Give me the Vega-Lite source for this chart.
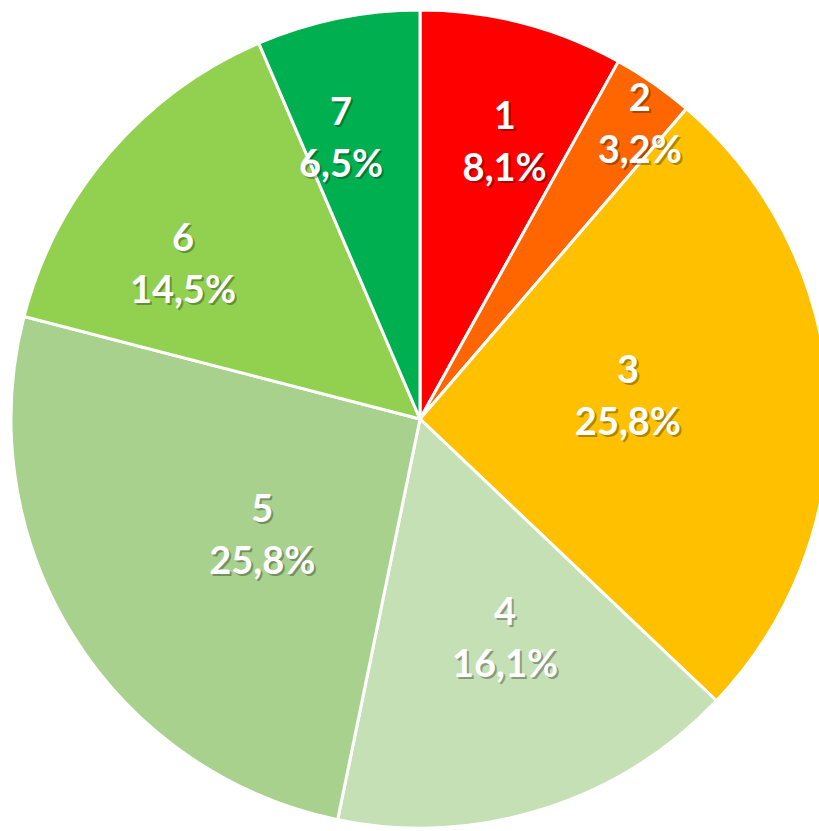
{
  "$schema": "https://vega.github.io/schema/vega-lite/v6.json",
  "width": 840,
  "height": 838,
  "autosize": {"type": "none"},
  "padding": {"left": 0, "top": 0, "right": -21, "bottom": -7},
  "background": "white",
  "view": {"stroke": null},
  "data": {
    "values": [
      {"cat": 1, "count": 5, "pct": "8,1%"},
      {"cat": 2, "count": 2, "pct": "3,2%"},
      {"cat": 3, "count": 16, "pct": "25,8%"},
      {"cat": 4, "count": 10, "pct": "16,1%"},
      {"cat": 5, "count": 16, "pct": "25,8%"},
      {"cat": 6, "count": 9, "pct": "14,5%"},
      {"cat": 7, "count": 4, "pct": "6,5%"}
    ]
  },
  "transform": [
    {"stack": "count", "groupby": [], "sort": [{"field": "cat", "order": "ascending"}], "as": ["t0", "t1"]},
    {"calculate": "(datum.t0 + datum.t1) / 2 + [0.445, 0.355, -0.5, -0.62, -0.84, -1.35, -0.72][datum.cat - 1]", "as": "mid"},
    {"calculate": "[toString(datum.cat), datum.pct]", "as": "label"},
    {"calculate": "[288, 366, 209, 237, 197, 282, 290][datum.cat - 1]", "as": "labelR"}
  ],
  "layer": [
    {
      "mark": {"type": "arc", "outerRadius": 409, "stroke": "white", "strokeWidth": 3},
      "encoding": {
        "theta": {"field": "t0", "type": "quantitative", "scale": {"domain": [0, 62]}, "stack": null},
        "theta2": {"field": "t1"},
        "color": {
          "field": "cat",
          "type": "nominal",
          "scale": {
            "domain": [1, 2, 3, 4, 5, 6, 7],
            "range": ["#FF0000", "#FF6600", "#FFC000", "#C5E0B4", "#A9D18E", "#92D050", "#00B050"]
          },
          "legend": null
        }
      }
    },
    {
      "mark": {"type": "text", "font": "Lato", "fontWeight": "bold", "fontSize": 38, "lineHeight": 52, "fill": "#000000", "opacity": 0.3, "baseline": "middle", "align": "center", "dx": 2, "dy": -24},
      "encoding": {
        "theta": {"field": "mid", "type": "quantitative", "scale": {"domain": [0, 62]}, "stack": null},
        "text": {"field": "label"},
        "radius": {"field": "labelR", "type": "quantitative", "scale": null}
      }
    },
    {
      "mark": {"type": "text", "font": "Lato", "fontWeight": "bold", "fontSize": 38, "lineHeight": 52, "fill": "white", "baseline": "middle", "align": "center", "dy": -26},
      "encoding": {
        "theta": {"field": "mid", "type": "quantitative", "scale": {"domain": [0, 62]}, "stack": null},
        "text": {"field": "label"},
        "radius": {"field": "labelR", "type": "quantitative", "scale": null}
      }
    }
  ]
}
